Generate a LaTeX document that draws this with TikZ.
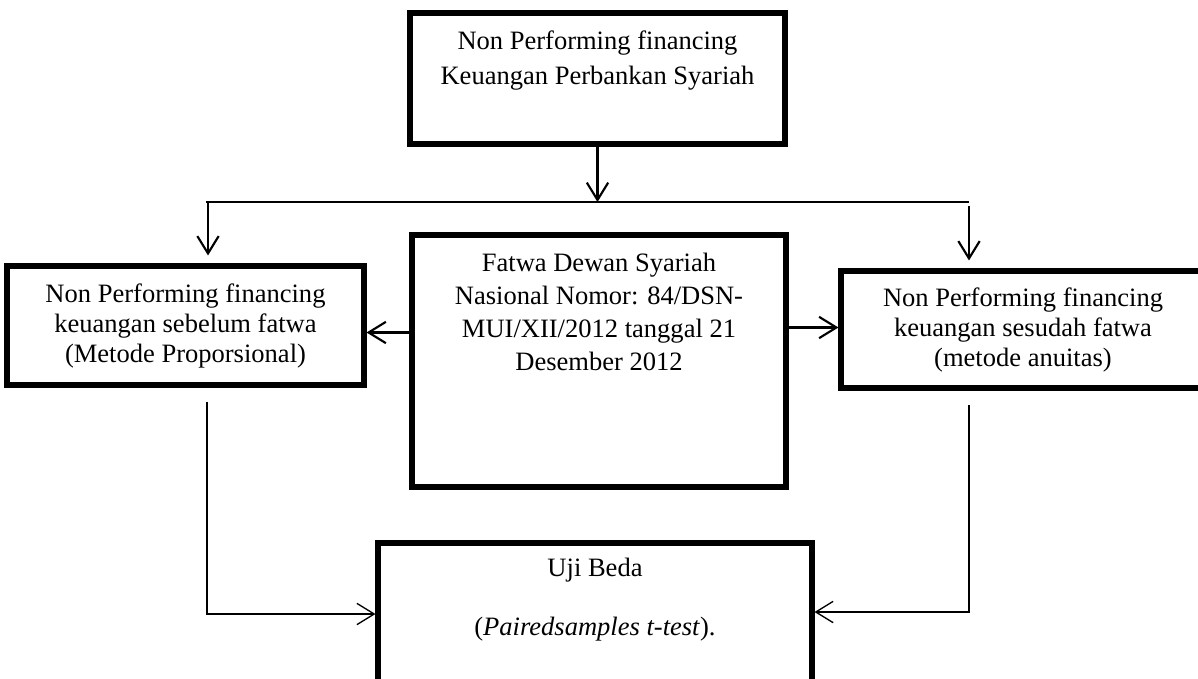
\documentclass[tikz,border=0pt]{standalone}
\usepackage{fontspec}
\setmainfont{Liberation Serif}
\usetikzlibrary{arrows.meta,positioning}
\begin{document}
\begin{tikzpicture}[x=0.75pt,y=-0.75pt,
    kotak/.style={draw,line width=3.8pt,inner sep=0pt},
    teks/.style={align=center,inner sep=0pt,font=\fontsize{19.9}{22.5}\selectfont},
    panah/.style={line width=1.6pt,-{Straight Barb[length=13pt,width=16pt]}},
    garis/.style={line width=1pt}]
    \useasboundingbox (0,0) rectangle (1198,678);

    % kotak-kotak
    \node[kotak,minimum width=281.25pt,minimum height=98.25pt] (npf) at (597.5,78.5) {};
    \node[kotak,minimum width=280.5pt,minimum height=189pt] (fatwa) at (599,361) {};
    \node[kotak,minimum width=267.75pt,minimum height=89.25pt] (sebelum) at (185.5,325.5) {};
    \node[kotak,minimum width=273pt,minimum height=87.75pt] (sesudah) at (1023,329.5) {};
    \node[kotak,minimum width=325.5pt,minimum height=132.75pt] (uji) at (595,631.5) {};

    % teks
    \node[teks,font=\fontsize{19.9}{26.25}\selectfont,below=15pt of npf.north] (npftxt)
    {Non Performing financing\\Keuangan Perbankan Syariah};
    \node[teks,font=\fontsize{19.9}{24.75}\selectfont,below=15pt of fatwa.north] (fatwatxt)
    {Fatwa Dewan Syariah\\Nasional Nomor: 84/DSN-\\MUI/XII/2012 tanggal 21\\Desember 2012};
    \node[teks] (sebelumtxt) at (sebelum.center)
    {Non Performing financing\\keuangan sebelum fatwa\\(Metode Proporsional)};
    \node[teks] (sesudahtxt) at (sesudah.center)
    {Non Performing financing\\keuangan sesudah fatwa\\(metode anuitas)};
    \node[teks,below=12.75pt of uji.north] (ujitxt)
    {Uji Beda\\[22pt](\textit{Pairedsamples t-test}).};

    % cabang atas
    \coordinate (cabkiri) at (206,202);
    \coordinate (cabkanan) at (969,202);
    \draw[garis] (cabkiri) -- (cabkanan);
    \draw[panah] (npf.south) -- (npf.south |- cabkiri);
    \draw[panah,shorten >=6pt] ([xshift=1.5pt]cabkiri) -- ([xshift=1.5pt]cabkiri |- sebelum.north);
    \draw[panah,shorten <=3pt,shorten >=6pt] (cabkanan) -- (cabkanan |- sesudah.north);

    % dari fatwa ke samping
    \draw[panah] ([yshift=-5.25pt]fatwa.west |- sebelum.east) -- ([yshift=-5.25pt]sebelum.east);
    \draw[panah] ([yshift=1.5pt]fatwa.east |- sesudah.west) -- ([yshift=1.5pt]sesudah.west);

    % ke uji beda
    \coordinate (turunkiri) at (207,402);
    \coordinate (turunkanan) at (969,405);
    \draw[garis,-{Straight Barb[length=13pt,width=16pt]}] (turunkiri) -- (207,614) -- (uji.west |- 0,614);
    \draw[garis,-{Straight Barb[length=13pt,width=16pt]}] (turunkanan) -- (969,612) -- (uji.east |- 0,612);
\end{tikzpicture}
\end{document}
